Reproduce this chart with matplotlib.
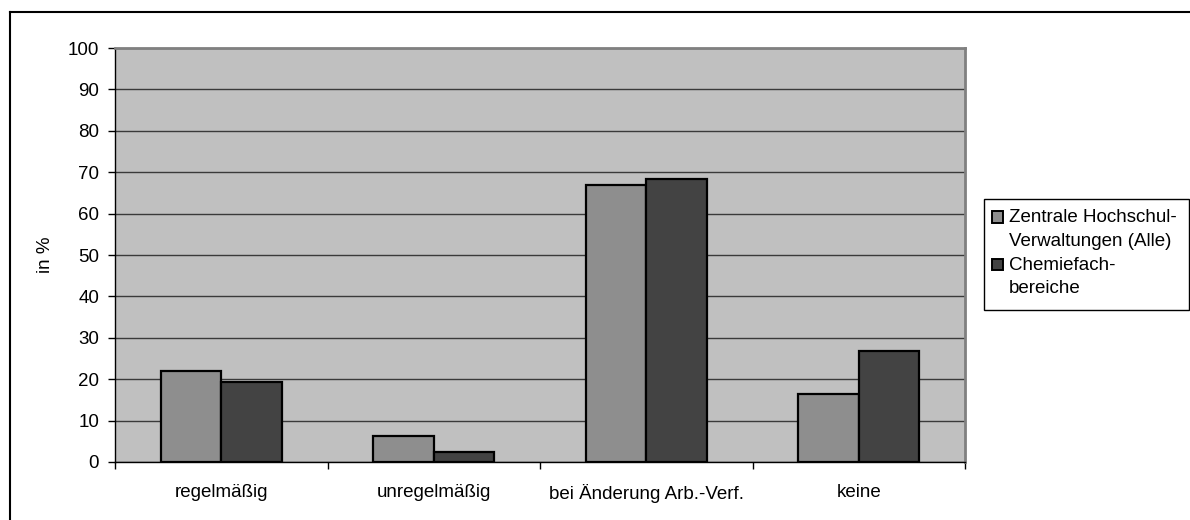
import matplotlib
matplotlib.use("Agg")
import matplotlib.pyplot as plt
from matplotlib.patches import Rectangle
from matplotlib.lines import Line2D
import numpy as np

plt.rcParams['font.family'] = ['Liberation Sans', 'DejaVu Sans']

categories = ["regelmäßig", "unregelmäßig", "bei Änderung Arb.-Verf.", "keine"]
series_names = [["Zentrale Hochschul-", "Verwaltungen (Alle)"], ["Chemiefach-", "bereiche"]]
verwaltungen = [22.0, 6.3, 66.8, 16.5]
chemie = [19.4, 2.3, 68.3, 26.8]
colors = ["#8e8e8e", "#434343"]
yticks = list(range(0, 101, 10))

W, H = 1190, 520
fig = plt.figure(figsize=(W / 100, H / 100), dpi=100)


def fx(px):
    return px / W


def fy(py):
    return 1 - py / H


# outer chart frame (left and top edges visible)
fig.add_artist(Line2D([fx(10), fx(10)], [0, fy(12)], color="black", lw=1.5,
                      transform=fig.transFigure))
fig.add_artist(Line2D([fx(10), 1], [fy(12), fy(12)], color="black", lw=1.5,
                      transform=fig.transFigure))

ax = fig.add_axes([fx(115), 58 / H, 850 / W, 414 / H])
ax.set_facecolor("#c0c0c0")

x = np.arange(len(categories))
w = 0.284
ax.bar(x - w / 2, verwaltungen, width=w, color=colors[0], edgecolor="black", linewidth=1.6, zorder=3)
ax.bar(x + w / 2, chemie, width=w, color=colors[1], edgecolor="black", linewidth=1.6, zorder=3)

ax.set_xlim(-0.5, len(categories) - 0.5)
ax.set_ylim(0, 100)
ax.set_yticks(yticks)
ax.yaxis.grid(True, color="#3a3a3a", linewidth=1.0, zorder=1)
ax.set_axisbelow(True)

ax.set_xticks(np.arange(-0.5, len(categories), 1.0))
ax.set_xticklabels([])
ax.set_xticks(x, minor=True)
ax.set_xticklabels(categories, minor=True, fontsize=13.5)
ax.tick_params(axis="x", which="minor", length=0, pad=16)
ax.tick_params(axis="x", which="major", length=5, width=1, direction="out")
ax.tick_params(axis="y", length=5, width=1, labelsize=13.5, pad=6.5)

for side in ["top", "right"]:
    ax.spines[side].set_color("#808080")
    ax.spines[side].set_linewidth(2)
for side in ["left", "bottom"]:
    ax.spines[side].set_color("black")
    ax.spines[side].set_linewidth(1)

ax.set_ylabel("in %", fontsize=13.5, labelpad=10)

# legend box
lx0, lx1, ly0, ly1 = 984, 1189, 199, 310
fig.add_artist(Rectangle((fx(lx0), fy(ly1)), (lx1 - lx0) / W, (ly1 - ly0) / H,
                         transform=fig.transFigure, facecolor="white",
                         edgecolor="black", linewidth=1))
baselines = [[222.5, 246], [269.5, 293]]
for lines, base, col in zip(series_names, baselines, colors):
    fig.add_artist(Rectangle((fx(991.5), fy(base[0])), 11 / W, 11 / H,
                             transform=fig.transFigure, facecolor=col,
                             edgecolor="black", linewidth=1.4))
    for line, b in zip(lines, base):
        fig.text(fx(1009), fy(b), line, fontsize=13.5, va="baseline", ha="left")

fig.savefig("out.png", dpi=100)
